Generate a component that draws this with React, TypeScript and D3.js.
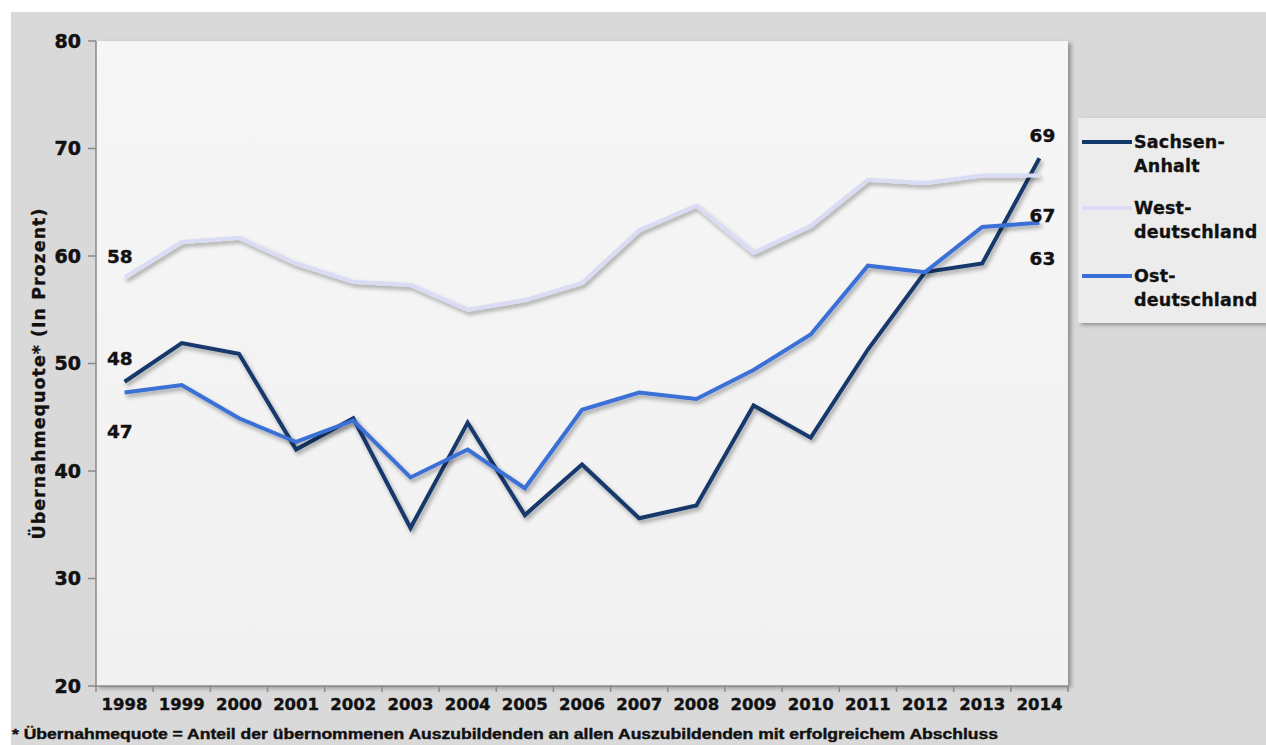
import React from "react";
import * as d3 from "d3";

const years = ["1998","1999","2000","2001","2002","2003","2004","2005","2006","2007","2008","2009","2010","2011","2012","2013","2014"];
const sachsenAnhalt = [48.3,51.9,50.9,42.0,44.9,34.7,44.5,35.9,40.6,35.6,36.8,46.1,43.1,51.3,58.5,59.3,69.1];
const westdeutschland = [58.0,61.3,61.7,59.3,57.6,57.3,55.0,55.9,57.5,62.4,64.7,60.3,62.8,67.1,66.8,67.5,67.5];
const ostdeutschland = [47.3,48.0,44.9,42.7,44.7,39.4,42.0,38.4,45.7,47.3,46.7,49.4,52.7,59.1,58.5,62.7,63.1];
const yTicks = [20,30,40,50,60,70,80];
const startLabels = [
  { text: "58", value: 58, dy: -21 },
  { text: "48", value: 48, dy: -26 },
  { text: "47", value: 47, dy: 36 },
];
const endLabels = [
  { text: "69", value: 69.1, dy: -23 },
  { text: "67", value: 67.5, dy: 40 },
  { text: "63", value: 63.1, dy: 36 },
];

const series = [
  { name: ["Sachsen-", "Anhalt"], values: sachsenAnhalt, color: "#15386b" },
  { name: ["West-", "deutschland"], values: westdeutschland, color: "#dadcf6" },
  { name: ["Ost-", "deutschland"], values: ostdeutschland, color: "#3a6fd6" },
];

export default function App() {
  const W = 1266, H = 745;
  const left = 96, right = 1068, top = 41, bottom = 686;
  const x = d3.scaleBand<string>().domain(years).range([left, right]);
  const y = d3.scaleLinear().domain([20, 80]).range([bottom, top]);
  const cx = (i: number) => (x(years[i]) as number) + x.bandwidth() / 2;
  const line = d3.line<number>().x((_, i) => cx(i)).y((v) => y(v));
  const font = "'DejaVu Sans', Verdana, sans-serif";
  const boundaries = years.map((yr) => x(yr) as number).concat([right]);
  const lastI = years.length - 1;

  return (
    <svg width={W} height={H} style={{ position: "absolute", left: 0, top: 0 }}>
      <defs>
        <filter id="shadow" x="-5%" y="-10%" width="110%" height="130%">
          <feDropShadow dx="2" dy="3" stdDeviation="2" floodColor="#000" floodOpacity="0.35" />
        </filter>
        <filter id="boxshadow" x="-5%" y="-5%" width="110%" height="110%">
          <feDropShadow dx="3" dy="2" stdDeviation="2" floodColor="#000" floodOpacity="0.35" />
        </filter>
        <linearGradient id="plotbg" x1="0" y1="0" x2="0" y2="1">
          <stop offset="0" stopColor="#f6f6f6" />
          <stop offset="1" stopColor="#f1f1f1" />
        </linearGradient>
      </defs>
      <rect x={0} y={0} width={W} height={H} fill="#ffffff" />
      <rect x={11} y={12} width={W - 11} height={H - 12} fill="#d9d9d9" />
      <rect x={left} y={top} width={right - left} height={bottom - top} fill="url(#plotbg)" filter="url(#boxshadow)" />
      <rect x={1078} y={118} width={188} height={205} fill="#ececec" filter="url(#boxshadow)" />

      {/* axes */}
      <line x1={left} x2={left} y1={top} y2={bottom} stroke="#8a8a8a" strokeWidth={1.5} />
      <line x1={left} x2={right} y1={bottom} y2={bottom} stroke="#8a8a8a" strokeWidth={1.5} />
      {yTicks.map((t) => (
        <g key={t}>
          <line x1={left - 8} x2={left} y1={y(t)} y2={y(t)} stroke="#8a8a8a" strokeWidth={1.5} />
          <text x={81} y={y(t)} dy="0.35em" textAnchor="end" fontFamily={font} fontWeight="bold" fontSize={19} fill="#111" stroke="#111" strokeWidth={0.5}>{t}</text>
        </g>
      ))}
      {boundaries.map((b, i) => (
        <line key={i} x1={b} x2={b} y1={bottom} y2={bottom + 6} stroke="#8a8a8a" strokeWidth={1.5} />
      ))}
      {years.map((yr, i) => (
        <text key={yr} x={cx(i)} y={710} textAnchor="middle" fontFamily={font} fontWeight="bold" fontSize={16.5} fill="#111" stroke="#111" strokeWidth={0.4}>{yr}</text>
      ))}
      <text transform={`translate(45,${(top + bottom) / 2 + 10}) rotate(-90)`} textAnchor="middle" fontFamily={font} fontWeight="bold" fontSize={17.5} letterSpacing={1} fill="#111" stroke="#111" strokeWidth={0.3}>Übernahmequote* (In Prozent)</text>

      {/* lines */}
      {series.map((s) => (
        <path key={s.name.join("")} d={line(s.values) || ""} fill="none" stroke={s.color} strokeWidth={4} strokeLinejoin="miter" filter="url(#shadow)" />
      ))}

      {/* value labels */}
      {startLabels.map((l) => (
        <text key={l.text + "s"} x={107} y={y(l.value) + l.dy} dy="0.35em" fontFamily={font} fontWeight="bold" fontSize={18.5} fill="#111" stroke="#111" strokeWidth={0.4}>{l.text}</text>
      ))}
      {endLabels.map((l) => (
        <text key={l.text + "e"} x={cx(lastI) + 3} y={y(l.value) + l.dy} dy="0.35em" textAnchor="middle" fontFamily={font} fontWeight="bold" fontSize={18.5} fill="#111" stroke="#111" strokeWidth={0.4}>{l.text}</text>
      ))}

      {/* legend */}
      {series.map((s, i) => {
        const ly = [142, 208, 276][i];
        return (
          <g key={"lg" + i}>
            <line x1={1082} x2={1132} y1={ly} y2={ly} stroke={s.color} strokeWidth={4} />
            <text x={1134} y={ly} dy="0.35em" fontFamily={font} fontWeight="bold" fontSize={17.5} letterSpacing={0.2} fill="#111" stroke="#111" strokeWidth={0.3}>{s.name[0]}</text>
            <text x={1134} y={ly + 24} dy="0.35em" fontFamily={font} fontWeight="bold" fontSize={17.5} letterSpacing={0.2} fill="#111" stroke="#111" strokeWidth={0.3}>{s.name[1]}</text>
          </g>
        );
      })}

      <text x={12} y={739} fontFamily="'Liberation Sans Narrow', 'Liberation Sans', sans-serif" fontWeight="bold" fontSize={14} textLength={986} lengthAdjust="spacingAndGlyphs" fill="#111" stroke="#111" strokeWidth={0.4}>* Übernahmequote = Anteil der übernommenen Auszubildenden an allen Auszubildenden mit erfolgreichem Abschluss</text>
    </svg>
  );
}
